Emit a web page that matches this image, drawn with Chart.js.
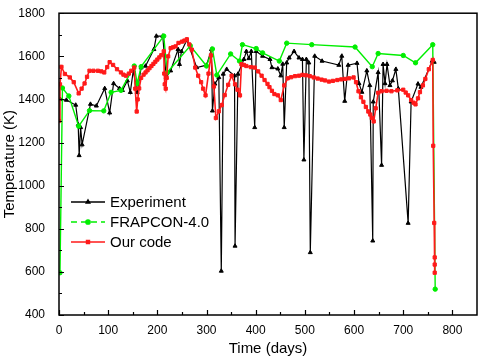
<!DOCTYPE html>
<html>
<head>
<meta charset="utf-8">
<script src="https://cdn.jsdelivr.net/npm/chart.js@4"></script>
<style>
  html, body { margin: 0; padding: 0; background: #fff; }
  #chart { display: block; }
</style>
</head>
<body>
<canvas id="chart" width="484" height="358"></canvas>
<script>
// Experiment (black)
const expDays = [3, 15, 34, 39, 41, 44, 47, 64, 76, 93, 103, 111, 123, 129, 139, 145, 151, 159, 167, 176,
  193, 198, 211, 218, 227, 242, 245, 249, 260, 280, 300, 310, 312, 317, 325, 330, 334, 341, 357, 358,
  364, 376, 381, 386, 391, 398, 401, 414, 429, 433, 445, 451, 455, 458, 463, 468, 478, 488, 495, 498,
  503, 508, 511, 520, 535, 569, 575, 581, 588, 606, 610, 616, 626, 632, 638, 639, 649, 656, 659, 663,
  667, 673, 678, 685, 690, 710, 716, 730, 736, 759, 763];
const expTemp = [1400, 1397, 1374, 1283, 1140, 1270, 1190, 1378, 1370, 1451, 1338, 1474, 1451, 1442, 1487, 1433, 1533, 1433, 1547, 1555,
  1632, 1694, 1694, 1502, 1533, 1632, 1563, 1623, 1676, 1548, 1559, 1632, 1347, 1472, 1502, 604, 1518, 1540, 1510, 720,
  1518, 1586, 1623, 1590, 1623, 1270, 1623, 1601, 1586, 1548, 1542, 1510, 1564, 1270, 1570, 1593, 1623, 1593, 1586, 1120,
  1586, 1570, 690, 1601, 1578, 1559, 1601, 1392, 1559, 1568, 1474, 1434, 1533, 1465, 744, 1389, 1525, 1095, 1563, 1474,
  1563, 1465, 1487, 1540, 1450, 826, 1389, 1472, 1457, 1578, 1573];

// FRAPCON-4.0 (green)
const frapDays = [2, 7, 20, 40, 62, 91, 106, 126, 153, 159, 167, 213, 220, 267, 300, 312, 321, 349, 367, 373,
  401, 414, 448, 463, 514, 602, 637, 649, 700, 725, 760, 765];
const frapTemp = [596, 1453, 1416, 1276, 1348, 1347, 1433, 1442, 1555, 1474, 1552, 1694, 1525, 1649, 1555, 1634, 1513, 1611, 1578, 1654,
  1636, 1616, 1578, 1661, 1654, 1643, 1552, 1613, 1604, 1570, 1654, 520];

// Our code (red)
const oursDays = [0, 2, 5, 12, 22, 30, 40, 46, 52, 57, 62, 70, 79, 86, 92, 98, 103, 110, 118, 126,
  131, 136, 142, 147, 153, 155, 158, 160, 163, 167, 172, 176, 180, 184, 188, 192, 196, 200, 204, 208,
  213, 214, 215, 217, 219, 222, 227, 232, 237, 243, 250, 255, 260, 265, 270, 277, 283, 289, 293, 298,
  304, 309, 315, 319, 325, 331, 337, 344, 351, 358, 363, 368, 371, 376, 381, 390, 398, 405, 412, 418,
  424, 428, 433, 438, 445, 451, 458, 465, 472, 480, 488, 495, 502, 510, 518, 526, 534, 541, 549, 557,
  566, 574, 582, 590, 599, 604, 609, 614, 619, 624, 629, 633, 636, 640, 644, 649, 656, 666, 676, 688,
  700, 705, 710, 716, 721, 725, 730, 734, 740, 745, 752, 760, 761, 763, 764, 764, 764];
const oursTemp = [1300, 1470, 1551, 1518, 1502, 1480, 1428, 1450, 1474, 1505, 1533, 1533, 1533, 1530, 1525, 1550, 1573, 1560, 1540, 1525,
  1515, 1510, 1520, 1533, 1548, 1450, 1344, 1400, 1451, 1500, 1515, 1525, 1535, 1545, 1555, 1565, 1575, 1585, 1595, 1605,
  1623, 1520, 1470, 1450, 1500, 1600, 1638, 1642, 1646, 1662, 1668, 1673, 1679, 1655, 1631, 1548, 1510, 1480, 1450, 1419,
  1520, 1604, 1460, 1314, 1345, 1374, 1420, 1468, 1510, 1470, 1445, 1419, 1563, 1560, 1555, 1550, 1548, 1530, 1510, 1490,
  1472, 1457, 1440, 1425, 1419, 1397, 1465, 1498, 1503, 1508, 1510, 1514, 1512, 1508, 1502, 1497, 1492, 1488, 1483, 1486,
  1490, 1493, 1495, 1498, 1502, 1480, 1438, 1410, 1389, 1365, 1344, 1330, 1314, 1298, 1359, 1431, 1438, 1440, 1438, 1442,
  1445, 1432, 1419, 1397, 1385, 1377, 1405, 1434, 1465, 1495, 1540, 1583, 1185, 827, 667, 634, 596];

const xTicks = [0, 50, 100, 150, 200, 250, 300, 350, 400, 450, 500, 550, 600, 650, 700, 750, 800];
const yTicks = [400, 600, 800, 1000, 1200, 1400, 1600, 1800];

const toPoints = (xs, ys) => xs.map((x, i) => ({ x: x, y: ys[i] }));

const FONT = '"Liberation Sans", Arial, sans-serif';

// frame, inward ticks and the legend box
const framePlugin = {
  id: 'frame',
  afterDraw(chart) {
    const ctx = chart.ctx;
    const a = chart.chartArea;
    const xs = chart.scales.x, ys = chart.scales.y;
    ctx.save();
    ctx.strokeStyle = '#000';
    ctx.lineWidth = 1.2;
    ctx.beginPath();
    xTicks.forEach(v => {
      const px = Math.round(xs.getPixelForValue(v)) + 0.5;
      const len = v % 100 === 0 ? 5 : 3;
      ctx.moveTo(px, a.bottom);
      ctx.lineTo(px, a.bottom - len);
    });
    for (let v = 400; v <= 1800; v += 100) {
      const py = Math.round(ys.getPixelForValue(v)) + 0.5;
      const len = v % 200 === 0 ? 5 : 3;
      ctx.moveTo(a.left, py);
      ctx.lineTo(a.left + len, py);
    }
    ctx.stroke();
    ctx.lineWidth = 1.5;
    ctx.strokeRect(a.left, a.top, a.right - a.left, a.bottom - a.top);

    // legend
    const items = [
      { label: 'Experiment', color: '#000', style: 'triangle', dash: [] },
      { label: 'FRAPCON-4.0', color: '#00ee00', style: 'circle', dash: [6, 4] },
      { label: 'Our code', color: '#ff1a1a', style: 'rect', dash: [] }
    ];
    ctx.font = '15px ' + FONT;
    ctx.textBaseline = 'middle';
    items.forEach((it, i) => {
      const y = 202 + i * 20;
      ctx.strokeStyle = it.color;
      ctx.fillStyle = it.color;
      ctx.lineWidth = 1.3;
      ctx.setLineDash(it.dash);
      ctx.beginPath();
      ctx.moveTo(71, y);
      ctx.lineTo(105, y);
      ctx.stroke();
      ctx.setLineDash([]);
      Chart.helpers.drawPoint(ctx, { pointStyle: it.style, radius: 2.2, borderWidth: 1 }, 88, y);
      ctx.fillStyle = '#000';
      ctx.fillText(it.label, 110, y + 1);
    });
    ctx.restore();
  }
};

new Chart(document.getElementById('chart'), {
  type: 'line',
  data: {
    datasets: [
      {
        label: 'Experiment',
        data: toPoints(expDays, expTemp),
        borderColor: '#000',
        backgroundColor: '#000',
        borderWidth: 1.2,
        pointStyle: 'triangle',
        pointRadius: 2.3,
        pointBorderWidth: 1,
        order: 3
      },
      {
        label: 'FRAPCON-4.0',
        data: toPoints(frapDays, frapTemp),
        borderColor: '#00ee00',
        backgroundColor: '#00ee00',
        borderWidth: 1.4,
        pointStyle: 'circle',
        pointRadius: 2.2,
        pointBorderWidth: 1,
        order: 2
      },
      {
        label: 'Our code',
        data: toPoints(oursDays, oursTemp),
        borderColor: '#ff1a1a',
        backgroundColor: '#ff1a1a',
        borderWidth: 1.6,
        pointStyle: 'rect',
        pointRadius: 2.3,
        pointBorderWidth: 1,
        order: 1
      }
    ]
  },
  options: {
    responsive: false,
    animation: false,
    devicePixelRatio: 1,
    layout: { padding: { top: 6, right: 7, left: 0, bottom: 0 } },
    plugins: {
      legend: { display: false },
      tooltip: { enabled: false }
    },
    elements: { line: { tension: 0 } },
    scales: {
      x: {
        type: 'linear',
        min: 0,
        max: 850,
        afterBuildTicks: s => { s.ticks = xTicks.map(v => ({ value: v })); },
        afterFit: s => { s.height = 43; },
        grid: { display: false },
        border: { display: false },
        ticks: {
          autoSkip: false,
          maxRotation: 0,
          padding: 0,
          color: '#000',
          font: { family: FONT, size: 12 },
          callback: v => (v % 100 === 0 ? String(v) : '')
        },
        title: {
          display: true,
          text: 'Time (days)',
          color: '#000',
          font: { family: FONT, size: 15 },
          padding: { top: 0, bottom: 0 }
        }
      },
      y: {
        min: 400,
        max: 1800,
        afterBuildTicks: s => { s.ticks = yTicks.map(v => ({ value: v })); },
        afterFit: s => { s.width = 59; },
        grid: { display: false },
        border: { display: false },
        ticks: {
          padding: 6,
          color: '#000',
          font: { family: FONT, size: 12 },
          callback: v => String(v)
        },
        title: {
          display: true,
          text: 'Temperature (K)',
          color: '#000',
          font: { family: FONT, size: 15 },
          padding: { top: 1, bottom: 0 }
        }
      }
    }
  },
  plugins: [framePlugin]
});
</script>
</body>
</html>
